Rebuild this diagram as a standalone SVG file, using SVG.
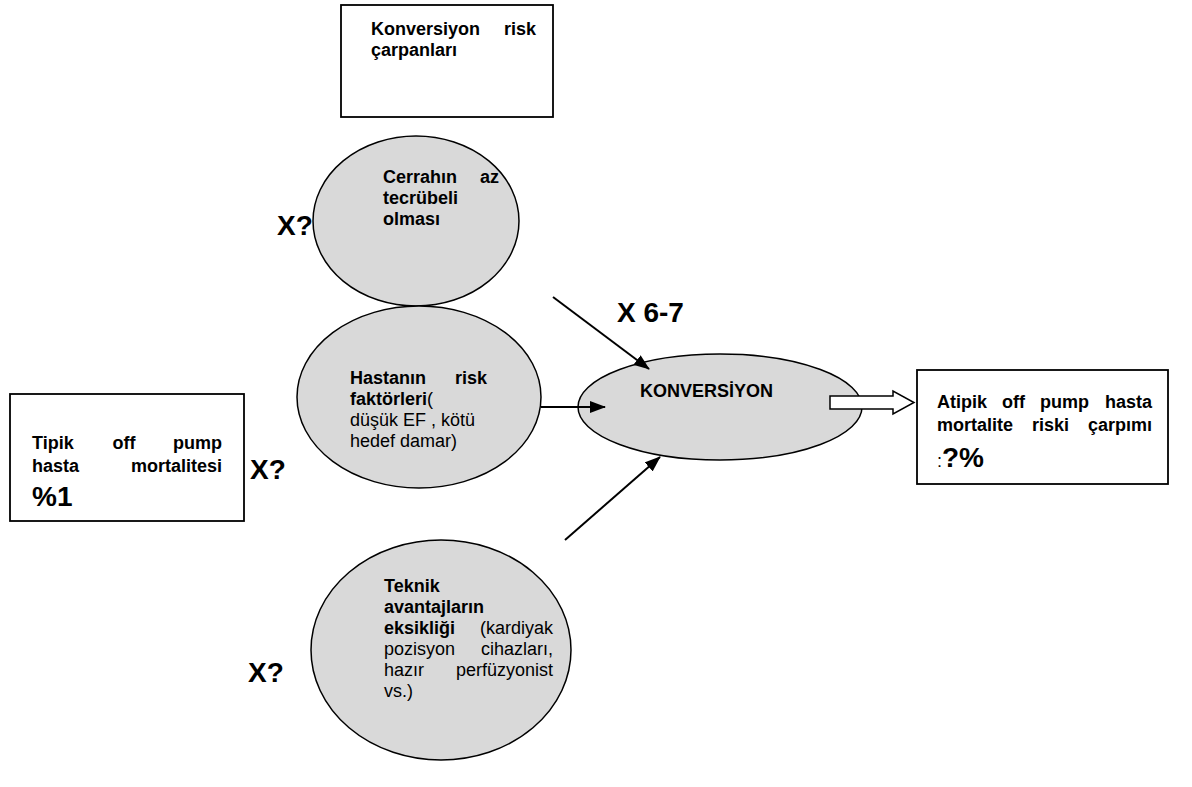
<svg xmlns="http://www.w3.org/2000/svg" width="1192" height="787" viewBox="0 0 1192 787">
<style>
text{font-family:"Liberation Sans",Arial,sans-serif;font-size:18px;fill:#000}
.b{font-weight:bold}
.big{font-weight:bold;font-size:28px}
.box{fill:#fff;stroke:#000;stroke-width:1.8}
.ell{fill:#d9d9d9;stroke:#000;stroke-width:1.5}
.con{stroke:#000;stroke-width:2;fill:none}
</style>
<defs>
<marker id="ah" markerWidth="16" markerHeight="12" refX="15" refY="6" orient="auto" markerUnits="userSpaceOnUse">
<path d="M0,0 L16,6 L0,12 Z" fill="#000"/>
</marker>
</defs>
<g id="node-carpanlar">
<rect class="box" x="341" y="5" width="212" height="112"/>
<text class="b" x="371" y="35">Konversiyon</text>
<text class="b" x="536" y="35" text-anchor="end">risk</text>
<text class="b" x="371" y="56">çarpanları</text>
</g>
<g id="node-cerrah">
<ellipse class="ell" cx="416" cy="221" rx="103" ry="85"/>
<text class="b" x="383" y="183">Cerrahın</text>
<text class="b" x="499" y="183" text-anchor="end">az</text>
<text class="b" x="383" y="204">tecrübeli</text>
<text class="b" x="383" y="225">olması</text>
</g>
<g id="node-hasta">
<ellipse class="ell" cx="419" cy="397" rx="122" ry="91"/>
<text class="b" x="350" y="384">Hastanın</text>
<text class="b" x="487" y="384" text-anchor="end">risk</text>
<text x="350" y="405"><tspan class="b">faktörleri</tspan>(</text>
<text x="350" y="426">düşük EF , kötü</text>
<text x="350" y="447">hedef damar)</text>
</g>
<g id="node-teknik">
<ellipse class="ell" cx="441" cy="650" rx="130" ry="110"/>
<text class="b" x="384" y="592">Teknik</text>
<text class="b" x="384" y="613">avantajların</text>
<text class="b" x="384" y="634">eksikliği</text>
<text x="553" y="634" text-anchor="end">(kardiyak</text>
<text x="384" y="655">pozisyon</text>
<text x="553" y="655" text-anchor="end">cihazları,</text>
<text x="384" y="676">hazır</text>
<text x="553" y="676" text-anchor="end">perfüzyonist</text>
<text x="384" y="697">vs.)</text>
</g>
<g id="node-konversiyon">
<ellipse class="ell" cx="720" cy="407" rx="142" ry="53"/>
<text class="b" x="640" y="397">KONVERSİYON</text>
</g>
<g id="node-tipik">
<rect class="box" x="10" y="394" width="234" height="127"/>
<text class="b" x="32" y="449">Tipik</text>
<text class="b" x="124" y="449" text-anchor="middle">off</text>
<text class="b" x="222" y="449" text-anchor="end">pump</text>
<text class="b" x="32" y="472">hasta</text>
<text class="b" x="222" y="472" text-anchor="end">mortalitesi</text>
<text class="big" x="32" y="506">%1</text>
</g>
<g id="node-atipik">
<rect class="box" x="917" y="370" width="251" height="114"/>
<text class="b" x="937" y="408">Atipik</text>
<text class="b" x="1002" y="408">off</text>
<text class="b" x="1040" y="408">pump</text>
<text class="b" x="1152" y="408" text-anchor="end">hasta</text>
<text class="b" x="937" y="431">mortalite</text>
<text class="b" x="1032" y="431">riski</text>
<text class="b" x="1152" y="431" text-anchor="end">çarpımı</text>
<text x="937" y="467">:<tspan class="big">?%</tspan></text>
</g>
<g id="labels">
<text class="big" x="277" y="235">X?</text>
<text class="big" x="250" y="479">X?</text>
<text class="big" x="248" y="682">X?</text>
<text class="big" x="617" y="322">X 6-7</text>
</g>
<g id="connectors">
<line class="con" x1="553" y1="297" x2="649" y2="369" marker-end="url(#ah)"/>
<line class="con" x1="541" y1="407" x2="605" y2="407" marker-end="url(#ah)"/>
<line class="con" x1="565" y1="540" x2="660" y2="457" marker-end="url(#ah)"/>
<path d="M830,396 L893,396 L893,391 L914,402.5 L893,414 L893,409 L830,409 Z" fill="#fff" stroke="#000" stroke-width="1.5"/>
</g>
</svg>
